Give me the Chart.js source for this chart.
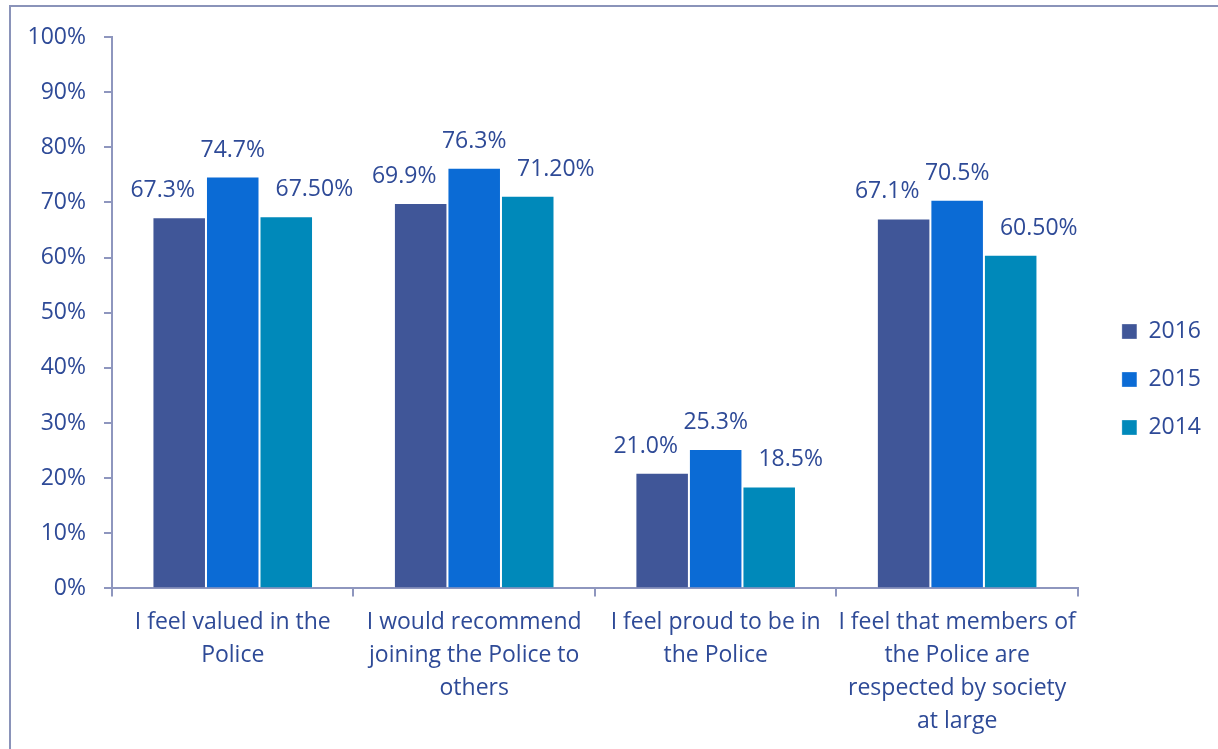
<!DOCTYPE html>
<html>
<head>
<meta charset="utf-8">
<script src="https://cdn.jsdelivr.net/npm/chart.js@4/dist/chart.umd.min.js"></script>
<style>
  html, body { margin: 0; padding: 0; background: #ffffff; overflow: hidden; }
  #frame { position: absolute; left: 9px; top: 5px; width: 1400px; height: 900px; border: 2px solid #8A93B9; box-sizing: border-box; }
  #c { position: absolute; left: 0; top: 0; }
</style>
</head>
<body>
<div id="frame"></div>
<canvas id="c" width="1218" height="749"></canvas>
<script>
// ---- data ----
const categories = [
  ["I feel valued in the", "Police"],
  ["I would recommend", "joining the Police to", "others"],
  ["I feel proud to be in", "the Police"],
  ["I feel that members of", "the Police are", "respected by society", "at large"]
];
const seriesNames = ["2016", "2015", "2014"];
const values2016 = [67.3, 69.9, 21.0, 67.1];
const values2015 = [74.7, 76.3, 25.3, 70.5];
const values2014 = [67.5, 71.2, 18.5, 60.5];
const labels2016 = ["67.3%", "69.9%", "21.0%", "67.1%"];
const labels2015 = ["74.7%", "76.3%", "25.3%", "70.5%"];
const labels2014 = ["67.50%", "71.20%", "18.5%", "60.50%"];
const yTickLabels = ["0%", "10%", "20%", "30%", "40%", "50%", "60%", "70%", "80%", "90%", "100%"];

const TEXT = '#2E4A97';
const AXIS = '#8E96BE';
const FONT = '"Open Sans"';
const FSIZE = 23;
const colors = ['#405698', '#0B6BD5', '#0089BA'];

const valueLabelPlugin = {
  id: 'valueLabels',
  afterDatasetsDraw(chart, args, opts) {
    const ctx = chart.ctx;
    ctx.save();
    ctx.font = FSIZE + 'px ' + FONT;
    ctx.fillStyle = TEXT;
    ctx.textBaseline = 'alphabetic';
    chart.data.datasets.forEach((ds, di) => {
      const meta = chart.getDatasetMeta(di);
      const st = opts.styles[di];
      meta.data.forEach((bar, i) => {
        const half = bar.width / 2;
        let x = bar.x;
        if (st.align === 'right') x = bar.x + half - st.dx;
        else if (st.align === 'left') x = bar.x - half + st.dx;
        ctx.textAlign = st.align;
        ctx.fillText(ds.valueLabels[i], x, bar.y - opts.gap);
      });
    });
    ctx.restore();
  }
};

const legendShift = {
  id: 'legendShift',
  afterLayout(chart, args, opts) {
    const lg = chart.legend;
    if (!lg) return;
    lg.left += opts.dx; lg.right += opts.dx;
    lg.top += opts.dy; lg.bottom += opts.dy;
  }
};

const chart = new Chart(document.getElementById('c'), {
  type: 'bar',
  data: {
    labels: categories,
    datasets: [
      { label: seriesNames[0], data: values2016, valueLabels: labels2016, backgroundColor: colors[0] },
      { label: seriesNames[1], data: values2015, valueLabels: labels2015, backgroundColor: colors[1] },
      { label: seriesNames[2], data: values2014, valueLabels: labels2014, backgroundColor: colors[2] }
    ]
  },
  options: {
    responsive: false,
    animation: false,
    devicePixelRatio: 1,
    layout: { padding: { top: 37, bottom: 1, left: 0, right: 26 } },
    datasets: {
      bar: {
        barPercentage: 1.0,
        categoryPercentage: 0.665,
        borderWidth: 1,
        borderColor: 'rgba(255,255,255,0.3)'
      }
    },
    scales: {
      x: {
        grid: { display: true, drawOnChartArea: false, drawTicks: true, tickLength: 8, offset: true, color: AXIS, lineWidth: 2 },
        border: { display: true, color: AXIS, width: 2 },
        ticks: { color: TEXT, font: { family: FONT, size: FSIZE, lineHeight: 1.43 }, padding: 10, maxRotation: 0, autoSkip: false }
      },
      y: {
        min: 0, max: 100,
        afterFit(s) { s.width = 112; },
        grid: { display: true, drawOnChartArea: false, drawTicks: true, tickLength: 8, color: AXIS, lineWidth: 2 },
        border: { display: true, color: AXIS, width: 2 },
        ticks: {
          stepSize: 10,
          color: TEXT,
          font: { family: FONT, size: FSIZE },
          padding: 18,
          callback: (v) => yTickLabels[Math.round(v / 10)]
        }
      }
    },
    plugins: {
      legend: {
        position: 'right',
        align: 'center',
        labels: { boxWidth: 15, boxHeight: 15, padding: 25, color: TEXT, font: { family: FONT, size: FSIZE } }
      },
      tooltip: { enabled: false },
      valueLabels: {
        gap: 20,
        styles: [ { align: 'right', dx: 11 }, { align: 'center', dx: 0 }, { align: 'left', dx: 16 } ]
      },
      legendShift: { dx: 19, dy: -13 }
    }
  },
  plugins: [valueLabelPlugin, legendShift]
});
</script>
</body>
</html>
